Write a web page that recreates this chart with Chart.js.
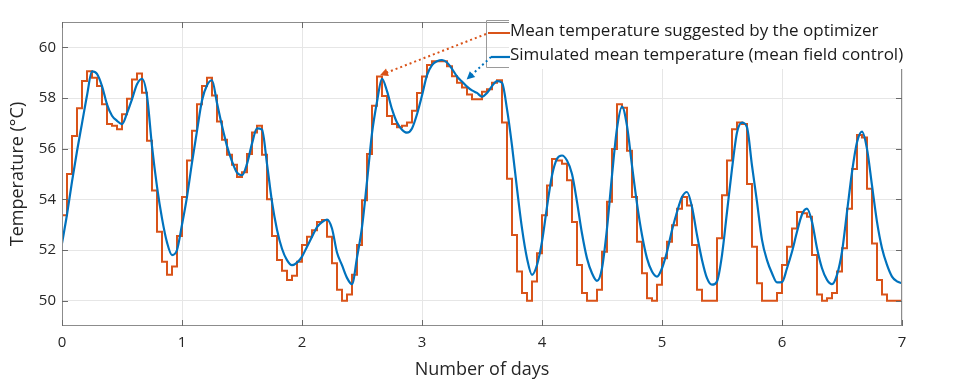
<!DOCTYPE html>
<html>
<head>
<meta charset="utf-8">
<script src="https://cdn.jsdelivr.net/npm/chart.js@4.4.1/dist/chart.umd.min.js"></script>
<style>
  html, body { margin: 0; padding: 0; background: #fff; }
</style>
</head>
<body>
<canvas id="tempChart" width="960" height="386"></canvas>
<script>
// hourly samples over 7 days
const dayTicks = [0, 1, 2, 3, 4, 5, 6, 7];
const tempTicks = [50, 52, 54, 56, 58, 60];

const optimizerLabel = 'Mean temperature suggested by the optimizer';
const simulatedLabel = 'Simulated mean temperature (mean field control)';

// stepped series, one value per hour (first value is the start point)
const optimizerTemp = [51.93,
  53.37, 55.0, 56.5, 57.6, 58.67, 59.06, 58.8, 58.47, 57.75, 56.97, 56.9, 56.77, 57.36, 57.97, 58.73, 58.97, 58.21, 56.31, 54.35, 52.72, 51.54, 51.02, 51.35, 52.55,
  54.09, 55.53, 56.71, 57.75, 58.47, 58.8, 58.1, 57.07, 56.35, 55.76, 55.37, 54.88, 55.07, 55.79, 56.64, 56.9, 55.76, 54.0, 52.55, 51.61, 51.18, 50.82, 50.98, 51.54,
  52.2, 52.52, 52.78, 53.11, 53.18, 52.52, 51.48, 50.43, 50.0, 50.24, 51.02, 52.2, 53.96, 55.79, 57.69, 58.85, 58.08, 57.29, 56.97, 56.85, 56.9, 57.03, 57.5, 58.2,
  58.85, 59.3, 59.45, 59.45, 59.45, 59.25, 58.86, 58.6, 58.41, 58.14, 57.95, 57.95, 58.25, 58.35, 58.6, 58.7, 57.03, 54.81, 52.59, 51.15, 50.3, 50.0, 50.76, 51.87,
  53.37, 54.55, 55.59, 55.53, 55.4, 54.75, 53.11, 51.41, 50.3, 50.0, 50.0, 50.43, 51.93, 53.9, 55.99, 57.75, 57.62, 55.92, 54.09, 52.33, 51.08, 50.1, 50.0, 50.63,
  51.67, 52.33, 52.98, 53.63, 54.09, 53.76, 52.2, 50.43, 50.0, 50.0, 50.0, 52.46, 54.16, 55.53, 56.77, 57.03, 56.97, 54.61, 52.13, 50.69, 50.0, 50.0, 50.0, 50.3,
  51.41, 52.13, 52.85, 53.5, 53.45, 53.31, 51.8, 50.24, 50.0, 50.1, 50.3, 51.15, 52.07, 53.63, 55.2, 56.54, 56.44, 54.42, 52.26, 50.82, 50.24, 50.0, 50.0, 50.0];

const simulatedTemp = [
  52.26, 53.4, 54.7, 55.9, 57.0, 58.1, 59.05, 58.95, 58.47, 57.75, 57.3, 57.1, 56.97, 57.4, 57.95, 58.54, 58.76, 58.08, 56.1, 54.5, 53.25, 52.3, 51.8, 52.0,
  53.0, 54.1, 55.45, 56.7, 57.9, 58.5, 58.7, 57.8, 56.9, 56.1, 55.5, 55.05, 54.95, 55.4, 56.2, 56.8, 56.75, 55.4, 53.9, 52.8, 52.05, 51.6, 51.4, 51.5,
  51.74, 52.13, 52.52, 52.9, 53.1, 53.2, 52.85, 51.9, 51.4, 50.9, 50.65, 51.7, 52.9, 54.7, 56.6, 57.85, 58.76, 58.27, 57.56, 57.03, 56.75, 56.63, 56.8, 57.36,
  58.1, 58.9, 59.3, 59.45, 59.5, 59.4, 59.15, 58.85, 58.65, 58.45, 58.3, 58.2, 58.05, 58.2, 58.47, 58.67, 58.6, 57.56, 56.12, 54.42, 52.85, 51.67, 51.02, 51.41,
  52.33, 53.7, 54.94, 55.6, 55.73, 55.53, 55.0, 53.9, 52.65, 51.67, 51.08, 50.78, 51.28, 52.85, 54.94, 56.8, 57.66, 56.9, 55.33, 53.83, 52.59, 51.67, 51.15, 50.95,
  51.28, 51.93, 52.78, 53.5, 54.09, 54.29, 53.7, 52.59, 51.61, 50.89, 50.63, 50.76, 51.8, 53.5, 55.2, 56.64, 57.03, 56.84, 55.33, 53.9, 52.4, 51.6, 51.08, 50.72,
  50.73, 51.28, 51.93, 52.72, 53.4, 53.63, 53.11, 52.07, 51.28, 50.82, 50.65, 51.02, 51.93, 53.5, 55.07, 56.25, 56.67, 55.99, 54.55, 53.11, 52.07, 51.41, 50.95, 50.76, 50.69];

// where the callout arrows point (days, °C)
const optimizerArrowTip = [2.65, 58.9];
const simulatedArrowTip = [3.372, 58.73];

const orange = '#D95319';
const blue = '#0072BD';
const textColor = '#262626';
const sans = "'Open Sans', 'Noto Sans', sans-serif";

const toPoints = arr => arr.map((v, i) => ({ x: i / 24, y: v }));

const frame = {
  id: 'frame',
  afterDatasetsDraw(chart) {
    const { ctx, chartArea: a, scales: { x, y } } = chart;
    ctx.save();
    // axes box
    ctx.strokeStyle = '#8c8c8c';
    ctx.lineWidth = 1;
    ctx.strokeRect(a.left + 0.5, a.top + 0.5, a.right - a.left - 1, a.bottom - a.top - 1);
    // inward tick marks
    ctx.strokeStyle = '#6a6a6a';
    ctx.beginPath();
    tempTicks.forEach(v => {
      const py = Math.round(y.getPixelForValue(v)) + 0.5;
      ctx.moveTo(a.left, py); ctx.lineTo(a.left + 6, py);
      ctx.moveTo(a.right, py); ctx.lineTo(a.right - 6, py);
    });
    dayTicks.forEach(v => {
      const px = Math.round(x.getPixelForValue(v)) + 0.5;
      ctx.moveTo(px, a.bottom); ctx.lineTo(px, a.bottom - 6);
      ctx.moveTo(px, a.top); ctx.lineTo(px, a.top + 6);
    });
    ctx.stroke();

    // pasted legend: white patch, partial box, sample lines, text
    ctx.fillStyle = '#fff';
    ctx.fillRect(509, 12, 451, 57);
    ctx.strokeStyle = '#9a9a9a';
    ctx.beginPath();
    ctx.moveTo(509, 20.5); ctx.lineTo(486.5, 20.5); ctx.lineTo(486.5, 67.5); ctx.lineTo(509, 67.5);
    ctx.stroke();
    ctx.lineWidth = 2;
    ctx.strokeStyle = orange;
    ctx.beginPath(); ctx.moveTo(488, 33); ctx.lineTo(510, 33); ctx.stroke();
    ctx.strokeStyle = blue;
    ctx.lineWidth = 2.2;
    ctx.beginPath(); ctx.moveTo(491, 57); ctx.lineTo(510, 57); ctx.stroke();
    ctx.fillStyle = '#1a1a1a';
    ctx.font = '17px ' + sans;
    ctx.textBaseline = 'middle';
    ctx.fillText(optimizerLabel, 510, 31);
    ctx.fillText(simulatedLabel, 510, 55);

    // dotted callout arrows
    const arrow = (x0, y0, tip, color) => {
      const x1 = x.getPixelForValue(tip[0]);
      const y1 = y.getPixelForValue(tip[1]);
      const ang = Math.atan2(y1 - y0, x1 - x0);
      ctx.strokeStyle = color;
      ctx.fillStyle = color;
      ctx.lineWidth = 2;
      ctx.setLineDash([2, 3]);
      ctx.beginPath();
      ctx.moveTo(x0, y0);
      ctx.lineTo(x1 - 6 * Math.cos(ang), y1 - 6 * Math.sin(ang));
      ctx.stroke();
      ctx.setLineDash([]);
      ctx.beginPath();
      ctx.moveTo(x1, y1);
      ctx.lineTo(x1 - 8 * Math.cos(ang) + 4 * Math.sin(ang), y1 - 8 * Math.sin(ang) - 4 * Math.cos(ang));
      ctx.lineTo(x1 - 8 * Math.cos(ang) - 4 * Math.sin(ang), y1 - 8 * Math.sin(ang) + 4 * Math.cos(ang));
      ctx.closePath();
      ctx.fill();
    };
    arrow(486, 34, optimizerArrowTip, orange);
    arrow(491, 57, simulatedArrowTip, blue);
    ctx.restore();
  }
};

new Chart(document.getElementById('tempChart'), {
  type: 'line',
  data: {
    datasets: [
      {
        label: optimizerLabel,
        data: toPoints(optimizerTemp),
        borderColor: orange,
        borderWidth: 2,
        stepped: 'after',
        pointRadius: 0,
        fill: false,
        order: 1
      },
      {
        label: simulatedLabel,
        data: toPoints(simulatedTemp),
        borderColor: blue,
        borderWidth: 2.2,
        cubicInterpolationMode: 'monotone',
        pointRadius: 0,
        fill: false,
        order: 0
      }
    ]
  },
  options: {
    responsive: false,
    animation: false,
    layout: { padding: { left: 0, right: 58, top: 22, bottom: 0 } },
    plugins: {
      legend: { display: false },
      tooltip: { enabled: false }
    },
    scales: {
      x: {
        type: 'linear',
        min: 0,
        max: 7,
        afterBuildTicks: s => { s.ticks = dayTicks.map(v => ({ value: v })); },
        afterFit: s => { s.height = 60; },
        grid: { color: '#e6e6e6', drawTicks: false },
        border: { display: false },
        ticks: { padding: 8, color: textColor, font: { family: sans, size: 15 } },
        title: {
          display: true,
          text: 'Number of days',
          color: textColor,
          font: { family: sans, size: 18 },
          padding: { top: 0, bottom: 5 }
        }
      },
      y: {
        min: 49,
        max: 61,
        afterFit: s => { s.width = 62; },
        afterBuildTicks: s => { s.ticks = tempTicks.map(v => ({ value: v })); },
        grid: { color: '#e6e6e6', drawTicks: false },
        border: { display: false },
        ticks: { padding: 6, color: textColor, font: { family: sans, size: 15 } },
        title: {
          display: true,
          text: 'Temperature (°C)',
          color: textColor,
          font: { family: sans, size: 18 },
          padding: { top: 7, bottom: 0 }
        }
      }
    }
  },
  plugins: [frame]
});
</script>
</body>
</html>
